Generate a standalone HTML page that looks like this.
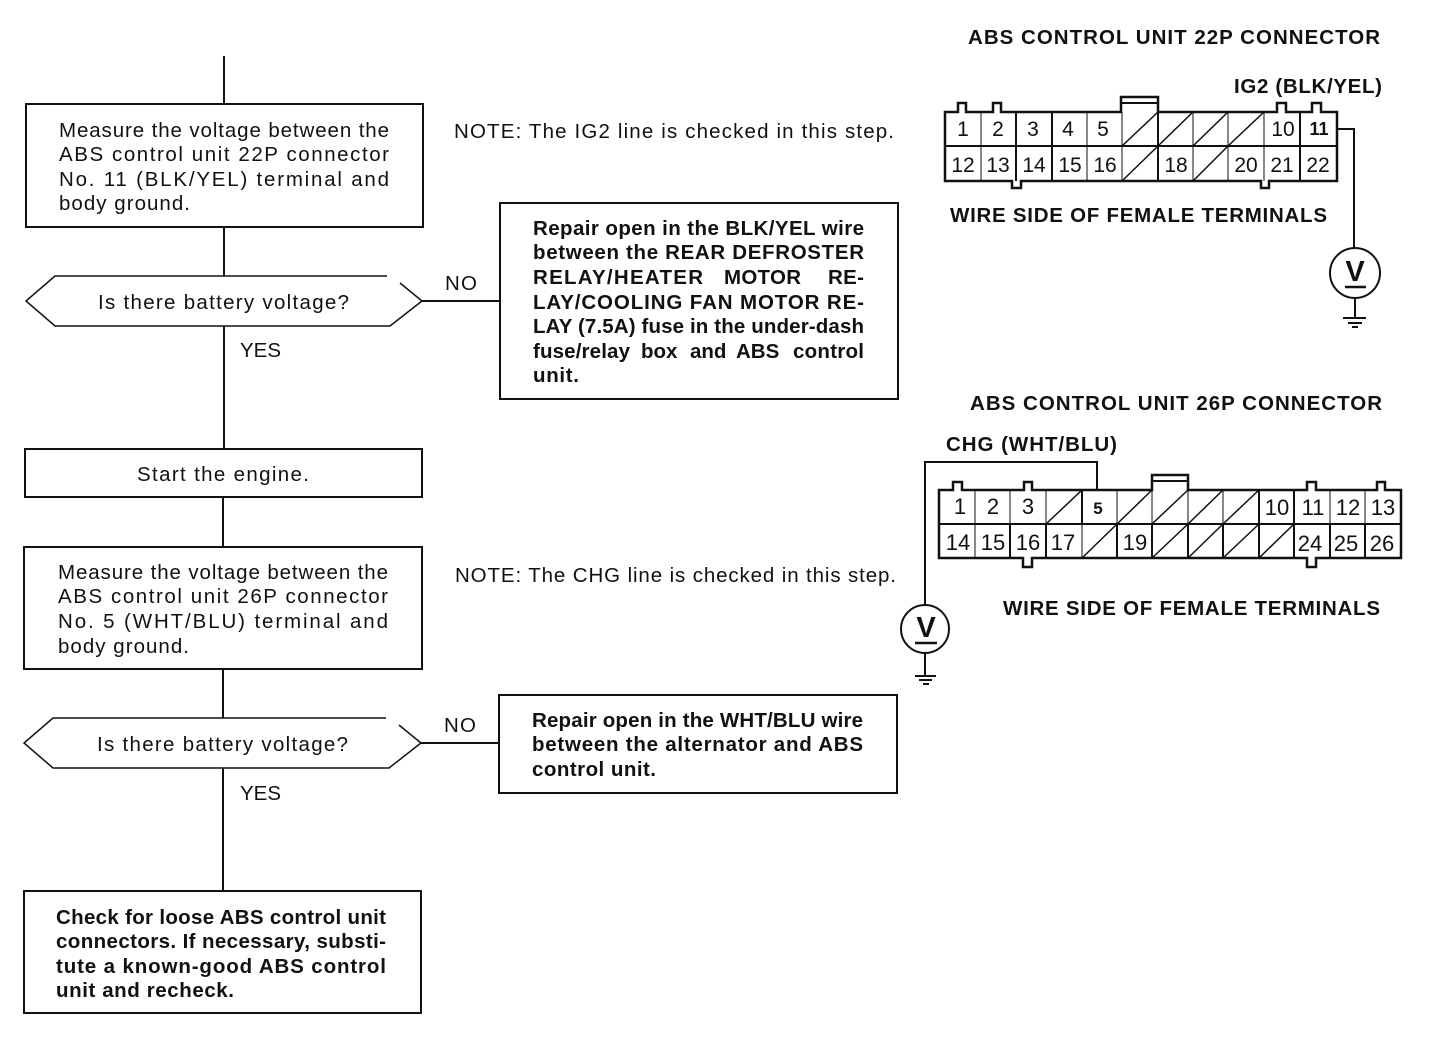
<!DOCTYPE html>
<html><head><meta charset="utf-8"><style>
html,body{margin:0;padding:0;background:#fff}
svg{display:block}
text{font-family:"Liberation Sans",sans-serif;fill:#111;font-size:20.5px}
.b{font-weight:bold}
.n{font-size:21px;text-anchor:middle}
.m{font-size:22px;text-anchor:middle}
</style></head><body>
<svg width="1440" height="1064" viewBox="0 0 1440 1064" xmlns="http://www.w3.org/2000/svg">
<g fill="none" stroke="#111" stroke-width="2">
<path d="M224 56V103M224 227V276M224 326V449M223 497V547M223 669V718M223 768V891"/>
<rect x="26" y="104" width="397" height="123"/>
<rect x="500" y="203" width="398" height="196"/>
<rect x="25" y="449" width="397" height="48"/>
<rect x="24" y="547" width="398" height="122"/>
<rect x="499" y="695" width="398" height="98"/>
<rect x="24" y="891" width="397" height="122"/>
<path d="M387 276H55L26 301L55 326H390L422 301L400 283" stroke-width="1.5"/>
<path d="M386 718H53L24 743L53 768H389L421 743L399 725" stroke-width="1.5"/>
<path d="M422 301H500M421 743H499"/>
</g>
<g>
<text x="59" y="137" textLength="330">Measure the voltage between the</text>
<text x="59" y="161" textLength="330">ABS control unit 22P connector</text>
<text x="59" y="186" textLength="330">No. 11 (BLK/YEL) terminal and</text>
<text x="59" y="210" textLength="131">body ground.</text>
<text x="98" y="309" textLength="251">Is there battery voltage?</text>
<text x="445" y="290" textLength="32">NO</text>
<text x="240" y="357" textLength="41">YES</text>
<text x="137" y="481" textLength="172">Start the engine.</text>
<text x="58" y="579" textLength="330">Measure the voltage between the</text>
<text x="58" y="603" textLength="330">ABS control unit 26P connector</text>
<text x="58" y="628" textLength="330">No. 5 (WHT/BLU) terminal and</text>
<text x="58" y="653" textLength="131">body ground.</text>
<text x="97" y="751" textLength="251">Is there battery voltage?</text>
<text x="444" y="732" textLength="32">NO</text>
<text x="240" y="800" textLength="41">YES</text>
<text x="454" y="138" textLength="440">NOTE: The IG2 line is checked in this step.</text>
<text x="455" y="582" textLength="441">NOTE: The CHG line is checked in this step.</text>
</g>
<g>
<text class="b" x="533" y="235" textLength="331">Repair open in the BLK/YEL wire</text>
<text class="b" x="533" y="259" textLength="331">between the REAR DEFROSTER</text>
<text class="b" x="533" y="284" textLength="170">RELAY/HEATER</text>
<text class="b" x="724" y="284" textLength="77">MOTOR</text>
<text class="b" x="828" y="284" textLength="36">RE-</text>
<text class="b" x="533" y="309" textLength="331">LAY/COOLING FAN MOTOR RE-</text>
<text class="b" x="533" y="333" textLength="331">LAY (7.5A) fuse in the under-dash</text>
<text class="b" x="533" y="358" textLength="97">fuse/relay</text>
<text class="b" x="641" y="358">box</text>
<text class="b" x="690" y="358">and</text>
<text class="b" x="736" y="358">ABS</text>
<text class="b" x="793" y="358" textLength="71">control</text>
<text class="b" x="533" y="382" textLength="46">unit.</text>
<text class="b" x="532" y="727" textLength="331">Repair open in the WHT/BLU wire</text>
<text class="b" x="532" y="751" textLength="331">between the alternator and ABS</text>
<text class="b" x="532" y="776" textLength="124">control unit.</text>
<text class="b" x="56" y="924" textLength="330">Check for loose ABS control unit</text>
<text class="b" x="56" y="948" textLength="330">connectors. If necessary, substi-</text>
<text class="b" x="56" y="973" textLength="330">tute a known-good ABS control</text>
<text class="b" x="56" y="997" textLength="178">unit and recheck.</text>
<text class="b" x="968" y="44" textLength="412">ABS CONTROL UNIT 22P CONNECTOR</text>
<text class="b" x="1234" y="93" textLength="148">IG2 (BLK/YEL)</text>
<text class="b" x="950" y="222" textLength="377">WIRE SIDE OF FEMALE TERMINALS</text>
<text class="b" x="970" y="410" textLength="412">ABS CONTROL UNIT 26P CONNECTOR</text>
<text class="b" x="946" y="451" textLength="171">CHG (WHT/BLU)</text>
<text class="b" x="1003" y="615" textLength="377">WIRE SIDE OF FEMALE TERMINALS</text>
</g>
<!-- 22P connector -->
<g fill="none" stroke="#111" stroke-width="2">
<path d="M945 112H958V103H966V112H993V103H1001V112H1121V97H1158V112H1277V103H1286V112H1312V103H1321V112H1337V181H1269V188H1261V181H1021V188H1012V181H945Z" stroke-width="2.5"/>
<path d="M1122 103H1157"/>
<path d="M945 146H1337"/>
<path d="M1016 112V181M1052 112V181M1158 112V181M1300 112V181" stroke-width="2"/>
<path d="M981 112V181M1087 112V181M1122 112V181M1193 112V181M1228 112V181M1264 112V181" stroke-width="1"/>
<path d="M1122 146L1158 112M1158 146L1193 112M1193 146L1228 112M1228 146L1264 112M1122 181L1158 146M1193 181L1228 146" stroke-width="1.5"/>
<path d="M1337 129H1354V248"/>
<circle cx="1355" cy="273" r="25"/>
<path d="M1355 298V318M1343 318H1366M1348 323H1362M1352 327H1358"/>
<path d="M1345 287H1366" stroke-width="2.5"/>
</g>
<g>
<text class="n" x="963" y="136">1</text><text class="n" x="998" y="136">2</text><text class="n" x="1033" y="136">3</text><text class="n" x="1068" y="136">4</text><text class="n" x="1103" y="136">5</text><text class="n" x="1283" y="136">10</text>
<text class="n b" x="1319" y="135" style="font-size:18px">11</text>
<text class="n" x="963" y="172">12</text><text class="n" x="998" y="172">13</text><text class="n" x="1034" y="172">14</text><text class="n" x="1070" y="172">15</text><text class="n" x="1105" y="172">16</text><text class="n" x="1176" y="172">18</text><text class="n" x="1246" y="172">20</text><text class="n" x="1282" y="172">21</text><text class="n" x="1318" y="172">22</text>
<text class="b" x="1355" y="281" text-anchor="middle" style="font-size:29px">V</text>
</g>
<!-- 26P connector -->
<g fill="none" stroke="#111" stroke-width="2">
<path d="M939 490H953V482H962V490H1024V482H1032V490H1152V475H1188V490H1307V482H1316V490H1377V482H1385V490H1401V558H1316V567H1307V558H1032V567H1023V558H939Z" stroke-width="2.5"/>
<path d="M1152 481H1188"/>
<path d="M939 524H1401"/>
<path d="M1010 524V558M1046 524V558M1082 490V524M1117 524V558M1152 524V558M1188 524V558M1223 524V558M1259 490V558M1294 490V558M1330 524V558M1365 524V558" stroke-width="2"/>
<path d="M975 490V558M1010 490V524M1046 490V524M1082 524V558M1117 490V524M1152 490V524M1188 490V524M1223 490V524M1330 490V524M1365 490V524" stroke-width="1"/>
<path d="M1046 524L1082 490M1117 524L1152 490M1152 524L1188 490M1188 524L1223 490M1223 524L1259 490M1082 558L1117 524M1152 558L1188 524M1188 558L1223 524M1223 558L1259 524M1259 558L1294 524" stroke-width="1.5"/>
<path d="M925 606V462H1097V490"/>
<circle cx="925" cy="629" r="24"/>
<path d="M925 653V676M915 676H936M919 680H932M923 684H929"/>
<path d="M915 643H937" stroke-width="2.5"/>
</g>
<g>
<text class="m" x="960" y="514">1</text><text class="m" x="993" y="514">2</text><text class="m" x="1028" y="514">3</text>
<text class="m b" x="1098" y="514" style="font-size:17px">5</text>
<text class="m" x="1277" y="515">10</text><text class="m" x="1313" y="515">11</text><text class="m" x="1348" y="515">12</text><text class="m" x="1383" y="515">13</text>
<text class="m" x="958" y="550">14</text><text class="m" x="993" y="550">15</text><text class="m" x="1028" y="550">16</text><text class="m" x="1063" y="550">17</text><text class="m" x="1135" y="550">19</text><text class="m" x="1310" y="551">24</text><text class="m" x="1346" y="551">25</text><text class="m" x="1382" y="551">26</text>
<text class="b" x="926" y="637" text-anchor="middle" style="font-size:29px">V</text>
</g>
</svg>
</body></html>
